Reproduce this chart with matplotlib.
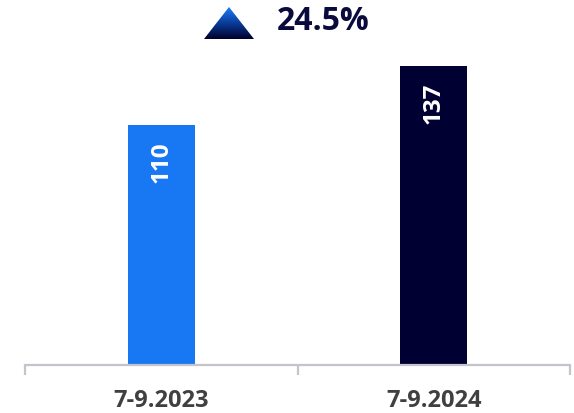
import numpy as np
import matplotlib
matplotlib.use("Agg")
import matplotlib.pyplot as plt
from matplotlib.colors import LinearSegmentedColormap
from matplotlib.patches import Polygon

plt.rcParams["font.family"] = ["Open Sans", "DejaVu Sans"]

# Quarterly totals
periods = ["7-9.2023", "7-9.2024"]
values = [110, 137]
bar_colors = ["#1877F2", "#000033"]
change_label = "24.5%"

W, H = 574, 413
fig = plt.figure(figsize=(W / 100, H / 100), dpi=100)

# main bar axes
ax = fig.add_axes([25 / W, 48 / H, 545 / W, 325 / H])
x = np.arange(len(periods))
ax.bar(x, values, width=0.246, color=bar_colors, zorder=2)
ax.set_xlim(-0.5, len(periods) - 0.5)
ax.set_ylim(0, 149)

for xi, v in zip(x, values):
    ax.text(xi, v - 7.5, f"{v}", rotation=90, ha="center", va="top",
            color="white", fontsize=17.5, fontweight="bold")

for side in ["top", "right", "left"]:
    ax.spines[side].set_visible(False)
ax.spines["bottom"].set_color("#c4c4cc")
ax.spines["bottom"].set_linewidth(1.6)
ax.set_yticks([])

# boundary ticks between categories, labels centred on the bars
ax.set_xticks(np.arange(-0.5, len(periods)), labels=[])
ax.tick_params(axis="x", which="major", length=7, width=1.6, color="#c4c4cc",
               direction="out")
ax.set_xticks(x, labels=periods, minor=True)
ax.tick_params(axis="x", which="minor", length=0, pad=17, labelsize=17,
               labelcolor="#404040")
for lbl in ax.get_xticklabels(minor=True):
    lbl.set_fontweight("bold")

# gradient up-arrow next to the growth figure
tri_ax = fig.add_axes([204 / W, (H - 39) / H, 50 / W, 32 / H])
tri_ax.set_xlim(0, 1)
tri_ax.set_ylim(0, 1)
tri_ax.axis("off")
cmap = LinearSegmentedColormap.from_list("arrow", ["#00002a", "#0a3c9a", "#1f7cf8"])
grad = np.linspace(0, 1, 256).reshape(-1, 1)
img = tri_ax.imshow(grad, extent=[0, 1, 0, 1], origin="lower", cmap=cmap,
                    aspect="auto")
tri = Polygon([[0, 0], [1, 0], [0.5, 1]], closed=True, transform=tri_ax.transData,
              facecolor="none", edgecolor="none")
tri_ax.add_patch(tri)
img.set_clip_path(tri)

fig.text(277 / W, (H - 22) / H, change_label, ha="left", va="center",
         fontsize=23, fontweight="bold", color="#0a0a3c")

fig.savefig("out.png", dpi=100)
